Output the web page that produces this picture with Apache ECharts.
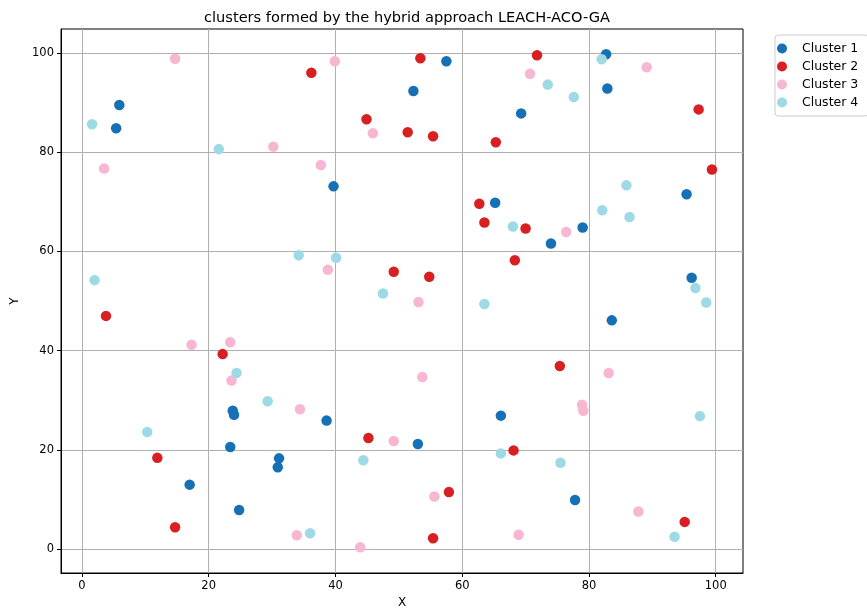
<!DOCTYPE html>
<html>
<head>
<meta charset="utf-8">
<script src="https://cdn.jsdelivr.net/npm/echarts@6/dist/echarts.min.js"></script>
<style>
  html, body { margin: 0; padding: 0; background: #fff; }
  #chart { width: 867px; height: 609px; }
</style>
</head>
<body>
<div id="chart"></div>
<script>
// Node positions (x, y) for each cluster
const cluster1 = [
  [5.9, 89.5], [5.4, 84.8], [39.7, 73.1], [57.5, 98.3], [82.7, 99.7],
  [52.3, 92.3], [82.9, 92.8], [69.3, 87.8], [95.4, 71.5], [65.2, 69.8],
  [79.0, 64.8], [74.0, 61.6], [96.2, 54.7], [83.6, 46.1], [66.1, 26.9],
  [53.0, 21.2], [77.8, 9.9], [23.8, 27.9], [24.0, 27.1], [38.6, 25.9],
  [23.4, 20.6], [31.1, 18.3], [30.9, 16.5], [17.0, 13.0], [24.8, 7.9]
];
const cluster2 = [
  [36.2, 96.0], [44.9, 86.6], [49.2, 55.9], [53.4, 98.9], [71.8, 99.5],
  [97.3, 88.6], [51.4, 84.0], [55.4, 83.2], [65.3, 82.0], [99.4, 76.5],
  [62.7, 69.6], [63.5, 65.8], [70.0, 64.6], [68.3, 58.2], [54.8, 54.9],
  [3.8, 47.0], [22.2, 39.3], [45.2, 22.4], [11.9, 18.4], [14.7, 4.4],
  [75.4, 36.9], [68.1, 19.9], [57.9, 11.5], [95.1, 5.5], [55.4, 2.2]
];
const cluster3 = [
  [14.7, 98.8], [39.9, 98.3], [45.9, 83.8], [30.2, 81.1], [3.5, 76.7],
  [37.7, 77.4], [38.8, 56.3], [89.1, 97.1], [70.7, 95.8], [76.4, 63.9],
  [53.1, 49.8], [17.3, 41.2], [23.4, 41.7], [23.6, 34.0], [34.4, 28.2],
  [49.2, 21.8], [33.9, 2.8], [43.9, 0.4], [53.7, 34.7], [83.1, 35.5],
  [78.9, 29.1], [79.1, 27.9], [55.6, 10.6], [87.8, 7.6], [68.9, 2.9]
];
const cluster4 = [
  [1.6, 85.6], [21.6, 80.6], [34.2, 59.2], [40.1, 58.7], [2.0, 54.2],
  [47.5, 51.5], [82.0, 98.7], [73.5, 93.6], [77.6, 91.1], [85.9, 73.3],
  [82.1, 68.3], [86.4, 66.9], [68.0, 65.0], [96.8, 52.6], [98.5, 49.7],
  [63.5, 49.4], [24.4, 35.5], [29.3, 29.8], [10.3, 23.6], [44.4, 17.9],
  [36.0, 3.2], [97.5, 26.8], [66.1, 19.3], [75.5, 17.4], [93.5, 2.5]
];

const seriesNames = ['Cluster 1', 'Cluster 2', 'Cluster 3', 'Cluster 4'];
const seriesData = [cluster1, cluster2, cluster3, cluster4];
const colors = ['#1570b5', '#d81f22', '#f7b6d2', '#9edae5'];

const xTicks = [0, 20, 40, 60, 80, 100];
const yTicks = [0, 20, 40, 60, 80, 100];

const font = 'DejaVu Sans';

function valueAxis(ticks, min, max, name, extra) {
  return Object.assign({
    type: 'value',
    min: min,
    max: max,
    name: name,
    nameLocation: 'middle',
    nameTextStyle: { color: '#000', fontFamily: font, fontSize: 12 },
    axisLine: { show: true, onZero: false, lineStyle: { color: '#000', width: 1 } },
    axisTick: {
      show: true, inside: false, length: 4,
      lineStyle: { color: '#000', width: 1 },
      customValues: ticks
    },
    axisLabel: {
      color: '#000', fontFamily: font, fontSize: 11.5, margin: 7,
      customValues: ticks
    },
    splitLine: { show: true, lineStyle: { color: '#b0b0b0', width: 1 } }
  }, extra);
}

const chart = echarts.init(document.getElementById('chart'), null, { renderer: 'canvas' });

chart.setOption({
  backgroundColor: '#fff',
  animation: false,
  title: {
    text: 'clusters formed by the hybrid approach LEACH-ACO-GA',
    left: 402,
    top: 6,
    textAlign: 'center',
    textStyle: { color: '#000', fontFamily: font, fontSize: 14.6, fontWeight: 'normal' }
  },
  grid: {
    left: 61, top: 29, right: 124, bottom: 36,
    outerBoundsMode: 'none',
    containLabel: false,
    show: true, borderColor: '#000', borderWidth: 1, backgroundColor: 'transparent'
  },
  legend: {
    orient: 'vertical',
    left: 775,
    top: 35,
    data: seriesNames,
    icon: 'circle',
    itemWidth: 30,
    itemHeight: 10,
    itemGap: 5,
    padding: [7, 10, 7, 2],
    borderColor: '#cccccc',
    borderWidth: 1,
    borderRadius: 3,
    textStyle: { color: '#000', fontFamily: font, fontSize: 12.5 }
  },
  xAxis: valueAxis(xTicks, -3.3, 104.3, 'X', { nameGap: 24 }),
  yAxis: valueAxis(yTicks, -4.8, 104.8, 'Y', { nameGap: 40 }),
  series: seriesData.map((d, i) => ({
    name: seriesNames[i],
    type: 'scatter',
    data: d,
    symbol: 'circle',
    symbolSize: 10.5,
    itemStyle: { color: colors[i], opacity: 1 },
    emphasis: { disabled: true }
  }))
});
</script>
</body>
</html>
